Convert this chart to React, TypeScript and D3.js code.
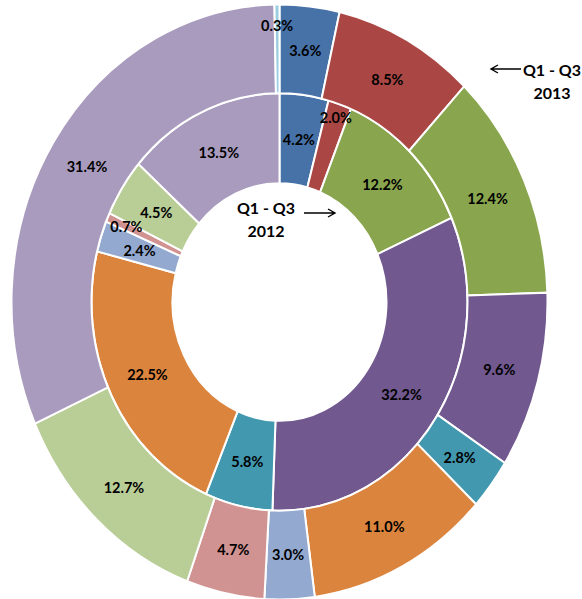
import { useEffect, useRef } from "react";
import * as d3 from "d3";

const categories = ["A", "B", "C", "D", "E", "F", "G", "H", "I", "J", "K"];
const colors = ["#4672A8", "#AA4744", "#89A54E", "#71588F", "#4198AF", "#DB843D", "#93A9CF", "#D19392", "#B9CD96", "#A99BBD", "#9ACDE0"];
const values2013 = [3.6, 8.5, 12.4, 9.6, 2.8, 11.0, 3.0, 4.7, 12.7, 31.4, 0.3];
const values2012 = [4.2, 2.0, 12.2, 32.2, 5.8, 22.5, 2.4, 0.7, 4.5, 13.5, 0];
// radial nudges (px) for labels Excel pushed off the small slices
const push2013 = [0, 0, 0, 0, 0, 0, 0, 0, 0, 0, 21];
const push2012 = [0, 28, 0, 0, 0, 0, 0, 20, 0, 0, 0];

function App() {
  const ref = useRef<HTMLDivElement>(null);

  useEffect(() => {
    const width = 582;
    const height = 599;
    const cx = 279.5;
    const cy = 302;
    const sy = 1.11;
    const rOuter = 268;
    const rMid = 188;
    const rInner = 107;

    d3.select(ref.current).selectAll("*").remove();

    const svg = d3
      .select(ref.current)
      .append("svg")
      .attr("width", width)
      .attr("height", height)
      .style("position", "absolute")
      .style("left", "0px")
      .style("top", "0px")
      .style("font-family", "Lato, 'Open Sans', sans-serif");

    const pie = d3.pie<number>().sort(null).value((d) => d);

    const rings = [
      { vals: values2012, r0: rInner, r1: rMid, push: push2012 },
      { vals: values2013, r0: rMid, r1: rOuter, push: push2013 },
    ];

    const sliceLayer = svg.append("g").attr("transform", `translate(${cx},${cy}) scale(1,${sy})`);
    const labelLayer = svg.append("g");

    rings.forEach((ring) => {
      const arcs = pie(ring.vals).filter((d) => d.value > 0);
      const arc = d3.arc<d3.PieArcDatum<number>>().innerRadius(ring.r0).outerRadius(ring.r1);

      sliceLayer
        .append("g")
        .selectAll("path")
        .data(arcs)
        .join("path")
        .attr("d", arc)
        .attr("fill", (d) => colors[d.index])
        .attr("stroke", "#fff")
        .attr("stroke-width", 2)
        .attr("vector-effect", "non-scaling-stroke");

      const pos = (d: d3.PieArcDatum<number>) => {
        const a = (d.startAngle + d.endAngle) / 2;
        const r = (ring.r0 + ring.r1) / 2 + ring.push[d.index];
        return [cx + r * Math.sin(a), cy - r * Math.cos(a) * sy];
      };

      labelLayer
        .append("g")
        .selectAll("text")
        .data(arcs)
        .join("text")
        .attr("x", (d) => pos(d)[0])
        .attr("y", (d) => pos(d)[1])
        .attr("text-anchor", "middle")
        .attr("dominant-baseline", "central")
        .attr("font-size", 14.5)
        .attr("font-weight", "bold")
        .attr("fill", "#000")
        .text((d) => `${d.value.toFixed(1)}%`);
    });

    // series annotations
    const note = (x: number, y: number, lines: string[]) => {
      lines.forEach((t, i) => {
        svg
          .append("text")
          .attr("x", x)
          .attr("y", y + i * 23)
          .attr("text-anchor", "middle")
          .attr("dominant-baseline", "central")
          .attr("font-size", 16)
          .attr("font-weight", "bold")
          .text(t);
      });
    };
    note(552, 69, ["Q1 - Q3", "2013"]);
    note(266, 207, ["Q1 - Q3", "2012"]);

    const arrow = (x1: number, x2: number, y: number) => {
      const dir = Math.sign(x2 - x1);
      svg
        .append("path")
        .attr("d", `M${x1},${y}H${x2}M${x2 - dir * 7},${y - 4}L${x2},${y}L${x2 - dir * 7},${y + 4}`)
        .attr("fill", "none")
        .attr("stroke", "#000")
        .attr("stroke-width", 1.4);
    };
    arrow(521, 491, 69);
    arrow(304, 335, 213);
  }, []);

  return <div ref={ref}></div>;
}

export default App;
